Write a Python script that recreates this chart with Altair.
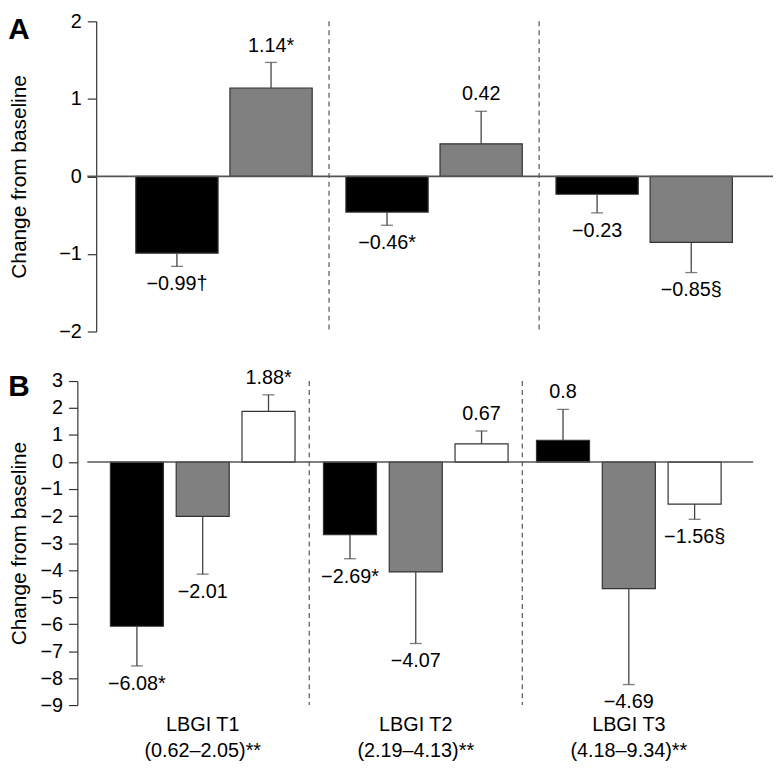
import altair as alt
import pandas as pd

# ---------------- data ----------------
groups = ["LBGI T1|(0.62–2.05)**", "LBGI T2|(2.19–4.13)**", "LBGI T3|(4.18–9.34)**"]

# Panel A (two series)
a_series = ["Series 1", "Series 2"]
a_colors = ["#000000", "#808080"]
a_s1_mean = [-0.99, -0.46, -0.23]
a_s1_se = [0.17, 0.17, 0.24]
a_s1_lbl = ["−0.99†", "−0.46*", "−0.23"]
a_s2_mean = [1.14, 0.42, -0.85]
a_s2_se = [0.33, 0.42, 0.39]
a_s2_lbl = ["1.14*", "0.42", "−0.85§"]

# Panel B (three series)
b_series = ["Series 1", "Series 2", "Series 3"]
b_colors = ["#000000", "#808080", "#ffffff"]
b_s1_mean = [-6.08, -2.69, 0.8]
b_s1_se = [1.47, 0.89, 1.15]
b_s1_lbl = ["−6.08*", "−2.69*", "0.8"]
b_s2_mean = [-2.01, -4.07, -4.69]
b_s2_se = [2.14, 2.65, 3.55]
b_s2_lbl = ["−2.01", "−4.07", "−4.69"]
b_s3_mean = [1.88, 0.67, -1.56]
b_s3_se = [0.61, 0.48, 0.56]
b_s3_lbl = ["1.88*", "0.67", "−1.56§"]

a_ticks = [-2, -1, 0, 1, 2]
b_ticks = [-9, -8, -7, -6, -5, -4, -3, -2, -1, 0, 1, 2, 3]


def build(series, means, ses, lbls):
    rows = []
    for s, m, e, l in zip(series, means, ses, lbls):
        for g, mv, ev, lv in zip(groups, m, e, l):
            end = mv + ev if mv >= 0 else mv - ev
            rows.append(dict(group=g, series=s, mean=mv, end=end, label=lv,
                             pos=1 if mv >= 0 else 0))
    return pd.DataFrame(rows)


dfa = build(a_series, [a_s1_mean, a_s2_mean], [a_s1_se, a_s2_se], [a_s1_lbl, a_s2_lbl])
dfb = build(b_series, [b_s1_mean, b_s2_mean, b_s3_mean], [b_s1_se, b_s2_se, b_s3_se],
            [b_s1_lbl, b_s2_lbl, b_s3_lbl])

FONT = "Liberation Sans"


def panel(df, series, colors, domain, ticks, width, height, outer, align, off_inner, off_outer,
          title_pad, axis_offset, letter, show_x):
    if show_x:
        xaxis = alt.Axis(title=None, domain=False, ticks=False, labelAngle=0,
                         labelExpr="split(datum.label, '|')", labelFontSize=20,
                         labelLineHeight=26, labelPadding=10, labelColor="#000",
                         labelFont=FONT)
    else:
        xaxis = None
    xs = alt.Scale(domain=groups, paddingInner=0, paddingOuter=outer, align=align)
    X = alt.X("group:N", scale=xs, axis=xaxis)
    XO = alt.XOffset("series:N",
                     scale=alt.Scale(domain=series, paddingInner=off_inner, paddingOuter=off_outer))
    ys = alt.Scale(domain=domain, nice=False, zero=False)
    yaxis = alt.Axis(values=ticks, grid=False, title="Change from baseline",
                     titlePadding=title_pad, offset=axis_offset)

    def Yf(field):
        return alt.Y(field, scale=ys, axis=yaxis)

    color = alt.Color("series:N",
                      scale=alt.Scale(domain=series, range=colors), legend=None)

    base = alt.Chart(df)
    bars = base.mark_bar(stroke="#333", strokeWidth=1.2).encode(
        x=X, xOffset=XO, y=Yf("mean:Q"), color=color)
    err = base.mark_rule(color="#444", strokeWidth=1.3).encode(
        x=X, xOffset=XO, y=Yf("mean:Q"), y2=alt.Y2("end:Q"))
    cap = base.mark_tick(color="#444", size=12, thickness=1.3).encode(
        x=X, xOffset=XO, y=Yf("end:Q"))
    up = base.transform_filter("datum.pos == 1").mark_text(
        fontSize=20, font=FONT, color="#000", baseline="middle", dy=-17).encode(
        x=X, xOffset=XO, y=Yf("end:Q"), text="label:N")
    down = base.transform_filter("datum.pos == 0").mark_text(
        fontSize=20, font=FONT, color="#000", baseline="middle", dy=18).encode(
        x=X, xOffset=XO, y=Yf("end:Q"), text="label:N")
    seps = alt.Chart(pd.DataFrame({"group": groups[1:]})).mark_rule(
        color="#555", strokeWidth=1.2, strokeDash=[5, 4]).encode(
        x=alt.X("group:N", scale=xs, axis=xaxis, bandPosition=0))
    zero = alt.Chart(pd.DataFrame({"z": [0]})).mark_rule(color="#555", strokeWidth=1.6).encode(
        y=Yf("z:Q"))

    return alt.layer(bars, err, cap, zero, seps, up, down).properties(
        width=width, height=height,
        title=alt.TitleParams(text=letter, anchor="start", frame="bounds", fontSize=30,
                              fontWeight="bold", font=FONT, color="#000", offset=0, dy=34))


pa = panel(dfa, a_series, a_colors, [-2, 2], a_ticks, 692, 313, 0.132, 0.571,
           0.126, 0.179, 30, -9, "A", False)
pb = panel(dfb, b_series, b_colors, [-9, 3], b_ticks, 672, 327, 0.0628, 0.333,
           0.194, 0.216, 11, 10, "B", True)

chart = (
    alt.vconcat(pa, pb, spacing=26, padding=0)
    .resolve_scale(x="independent", y="independent", xOffset="independent", color="independent")
    .configure_view(stroke=None)
    .configure_axisY(labelFontSize=20, labelFont=FONT, labelColor="#000", labelPadding=6,
                     tickSize=9, tickColor="#333", tickWidth=1.2, domainColor="#333",
                     domainWidth=1.2, titleFontSize=21, titleFontWeight="normal",
                     titleFont=FONT, titleColor="#000")
    .configure_axisX(labelFontSize=20, labelFont=FONT, labelColor="#000")
)

chart.save("out.html", embed_options={"renderer": "svg", "actions": False})
